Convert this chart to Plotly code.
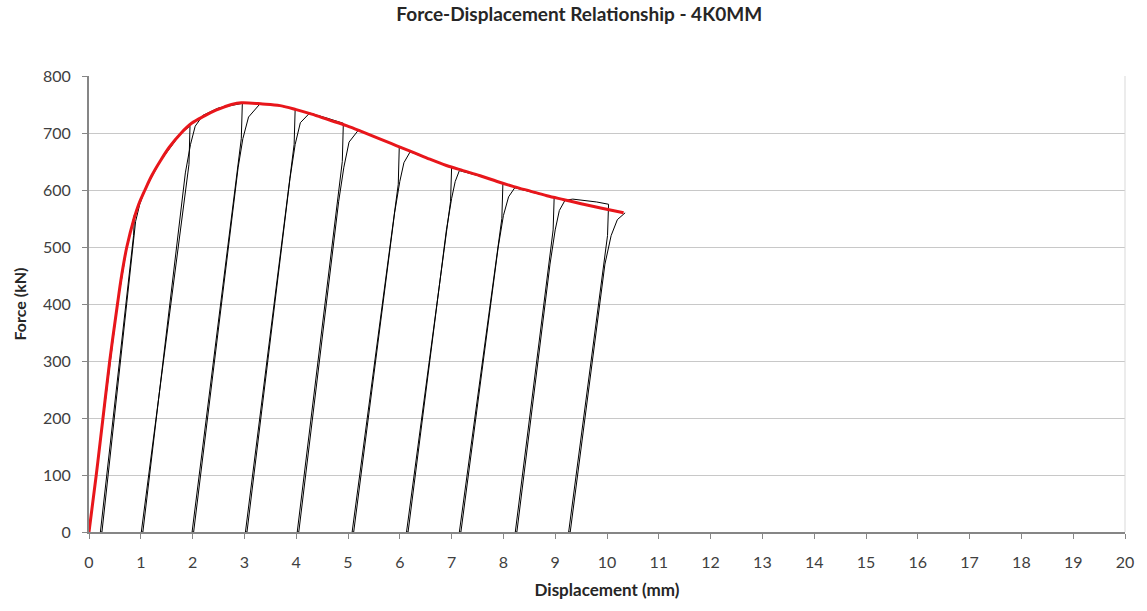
import plotly.graph_objects as go

# Envelope (red) curve
env_x = [0, 0.14, 0.27, 0.40, 0.55, 0.63, 0.73, 0.87, 0.96, 1.08, 1.21, 1.37, 1.55, 1.78, 1.98, 2.23, 2.45, 2.62, 2.75, 2.94,
         3.35, 3.69, 4.00, 4.30, 4.63, 4.97, 5.28, 5.60, 5.93, 6.26, 6.58, 6.90, 7.22, 7.55, 7.88, 8.20, 8.52, 8.84,
         9.17, 9.50, 9.90, 10.32]
env_y = [0, 100, 200, 300, 400, 450, 500, 550, 575, 600, 625, 650, 675, 700, 717, 730, 740, 746, 750, 753,
         751, 748, 741, 733, 723, 713, 702, 690, 678, 666, 654, 643, 634, 625, 615, 606, 598, 590,
         583, 576, 568, 560]

# Cyclic loading history (black)
cyc_x = [0, 0.27, 0.55, 0.73, 0.88,
         0.86, 0.22, 0.25, 0.82, 0.90, 0.98, 1.08, 1.37, 1.78,
         1.95, 1.93, 1.01, 1.04, 1.86, 1.96, 2.05, 2.20, 2.50,
         2.96, 2.94, 1.99, 2.02, 2.88, 2.97, 3.08, 3.30, 3.60,
         3.98, 3.96, 3.02, 3.05, 3.88, 3.98, 4.08, 4.26, 4.60,
         4.91, 4.89, 4.02, 4.05, 4.82, 4.92, 5.02, 5.20, 5.60,
         5.99, 5.97, 5.08, 5.11, 5.90, 6.00, 6.08, 6.20, 6.60,
         7.00, 6.98, 6.13, 6.16, 6.90, 7.00, 7.07, 7.15, 7.60,
         7.99, 7.97, 7.15, 7.18, 7.90, 8.00, 8.10, 8.22, 8.60,
         8.98, 8.96, 8.23, 8.26, 8.90, 9.00, 9.08, 9.19, 9.34, 9.80,
         10.03, 10.01, 9.26, 9.29, 9.96, 10.08, 10.20, 10.35]
cyc_y = [0, 200, 400, 500, 558,
         520, 0, 0, 480, 545, 575, 600, 650, 700,
         712, 645, 0, 0, 630, 680, 712, 731, 744,
         752, 690, 0, 0, 640, 690, 728, 751, 749,
         742, 680, 0, 0, 620, 680, 718, 735, 726,
         717, 650, 0, 0, 580, 640, 684, 705, 690,
         676, 610, 0, 0, 560, 615, 648, 667, 653,
         639, 580, 0, 0, 530, 585, 615, 634, 623,
         611, 550, 0, 0, 500, 555, 588, 604, 595,
         587, 530, 0, 0, 470, 530, 564, 582, 584, 579,
         575, 520, 0, 0, 470, 520, 548, 560]

x_ticks = list(range(0, 21))
y_ticks = list(range(0, 801, 100))

fig = go.Figure()
fig.add_trace(go.Scatter(x=cyc_x, y=cyc_y, mode="lines",
                         line=dict(color="#000000", width=1), showlegend=False))
fig.add_trace(go.Scatter(x=env_x, y=env_y, mode="lines",
                         line=dict(color="#E8161B", width=3, shape="spline", smoothing=1.0),
                         showlegend=False))

font_family = "Lato, 'Open Sans', sans-serif"
fig.update_layout(
    width=1147, height=611,
    margin=dict(l=89, r=22, t=76, b=79),
    paper_bgcolor="white", plot_bgcolor="white",
    font=dict(family=font_family, color="#404040", size=16),
    title=dict(text="<b>Force-Displacement Relationship - 4K0MM</b>",
               x=0.505, xanchor="center", y=1 - 14 / 611, yanchor="middle",
               font=dict(size=19, color="#262626")),
    xaxis=dict(range=[0, 20], tickvals=x_ticks, ticktext=[str(v) for v in x_ticks],
               showgrid=False, zeroline=False,
               showline=True, linecolor="#868686", linewidth=2,
               ticks="outside", ticklen=5, tickcolor="#868686", tickwidth=1,
               ticklabelstandoff=10,
               title=dict(text="<b>Displacement (mm)</b>", standoff=14,
                          font=dict(size=17, color="#262626"))),
    yaxis=dict(range=[0, 800], tickvals=y_ticks, ticktext=[str(v) for v in y_ticks],
               showgrid=True, gridcolor="#C8C8C8", gridwidth=1, zeroline=False,
               showline=True, linecolor="#868686", linewidth=2,
               ticks="outside", ticklen=5, tickcolor="#868686", tickwidth=1,
               ticklabelstandoff=8,
               title=dict(text="<b>Force (kN)</b>", standoff=12,
                          font=dict(size=16, color="#262626"))),
    shapes=[dict(type="line", xref="paper", yref="paper", x0=1, x1=1, y0=0, y1=1,
                 line=dict(color="#D9D9D9", width=1))],
)

fig.write_html("out.html")
